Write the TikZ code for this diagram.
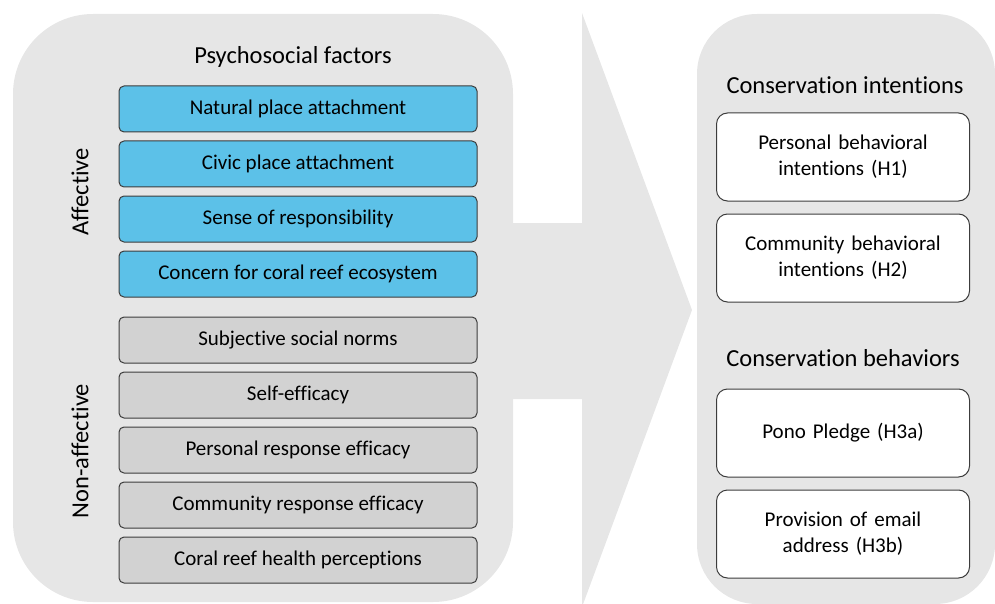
\documentclass[tikz,border=0pt]{standalone}
\usepackage{fontspec}
\setmainfont{Carlito}[Ligatures=NoCommon]
\usetikzlibrary{positioning}

\definecolor{panelgray}{HTML}{E6E6E6}
\definecolor{boxgray}{HTML}{D2D2D2}
\definecolor{affblue}{HTML}{5CC1E8}
\definecolor{boxline}{HTML}{3C3C3C}

\begin{document}
\begin{tikzpicture}[x=1pt, y=-1pt,
    heading/.style={font=\fontsize{24.5}{29}\selectfont},
    factor/.style={draw=boxline, line width=1pt, rounded corners=5pt,
      minimum width=358pt, minimum height=46pt, inner sep=0pt,
      font=\fontsize{21}{25}\selectfont},
    affect/.style={factor, fill=affblue},
    nonaff/.style={factor, fill=boxgray},
    outcome/.style={draw=boxline, line width=1pt, fill=white, rounded corners=11pt,
      minimum width=253pt, minimum height=88pt, text width=240pt, align=center,
      font=\fontsize{21}{26}\selectfont}]
  \useasboundingbox (0,0) rectangle (995,604);

  % grey panels and the big arrow between them
  \fill[panelgray, rounded corners=80pt] (13,14) rectangle (513,602);
  \fill[panelgray, rounded corners=60pt] (697,14) rectangle (995,604);
  \fill[panelgray] (500,223) -- (582,223) -- (582,13) -- (692,310)
    -- (582,607) -- (582,399) -- (500,399) -- cycle;

  % psychosocial factors
  \node[heading] (psycho) at (293,57) {Psychosocial factors};
  \node[affect] (natplace) at (298,109) {Natural place attachment};
  \node[affect, below=8pt of natplace] (civplace) {Civic place attachment};
  \node[affect, below=8pt of civplace] (respons) {Sense of responsibility};
  \node[affect, below=8pt of respons] (concern) {Concern for coral reef ecosystem};
  \node[nonaff, below=19pt of concern] (norms) {Subjective social norms};
  \node[nonaff, below=8pt of norms] (selfeff) {Self-efficacy};
  \node[nonaff, below=8pt of selfeff] (persresp) {Personal response efficacy};
  \node[nonaff, below=8pt of persresp] (commresp) {Community response efficacy};
  \node[nonaff, below=8pt of commresp] (health) {Coral reef health perceptions};

  % side labels for the two groups
  \node[heading, rotate=90] (afflabel) at (80,192) {Affective};
  \node[heading, rotate=90] (nonafflabel) at (80,451) {Non-affective};

  % outcomes
  \node[heading] (intent) at (845,85) {Conservation intentions};
  \node[outcome] (persint) at (843,157) {Personal behavioral\\intentions (H1)};
  \node[outcome, below=12pt of persint] (commint) {Community behavioral\\intentions (H2)};
  \node[heading] (behav) at (843,358) {Conservation behaviors};
  \node[outcome] (pledge) at (843,433) {Pono Pledge (H3a)};
  \node[outcome, below=12pt of pledge] (email) {Provision of email\\address (H3b)};
\end{tikzpicture}
\end{document}
